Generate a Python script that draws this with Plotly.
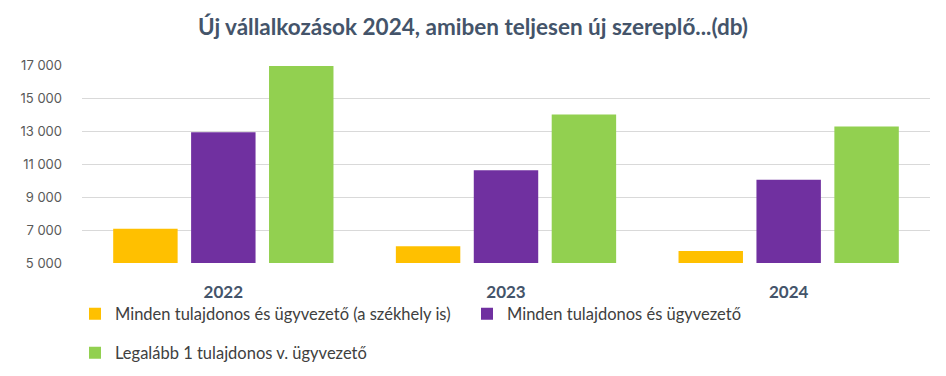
import plotly.graph_objects as go

years = ["2022", "2023", "2024"]
series_names = [
    "Minden tulajdonos és ügyvezető (a székhely is)",
    "Minden tulajdonos és ügyvezető",
    "Legalább 1 tulajdonos v. ügyvezető",
]
vals_all_seat = [7080, 6010, 5730]
vals_all = [12930, 10620, 10040]
vals_one = [16940, 14000, 13270]
colors = ["#FFC000", "#7030A0", "#92D050"]
y_ticks = [5000, 7000, 9000, 11000, 13000, 15000, 17000]

narrow = "Lato, sans-serif"

fig = go.Figure()
for name, vals, col, lg in zip(series_names, [vals_all_seat, vals_all, vals_one], colors,
                               ["legend", "legend", "legend2"]):
    fig.add_trace(go.Bar(x=years, y=vals, name=name, marker=dict(color=col, line=dict(width=0)),
                         legend=lg))

W, H = 946, 376
fig.update_layout(
    width=W, height=H,
    margin=dict(l=82, r=16, t=65, b=113, autoexpand=False),
    paper_bgcolor="white", plot_bgcolor="white",
    separators=", ",
    barmode="group", bargap=0.173, bargroupgap=0.173,
    title=dict(text="<b>Új vállalkozások 2024, amiben teljesen új szereplő...(db)</b>",
               x=0.5, xanchor="center", y=1 - 27/H, yanchor="middle",
               font=dict(family=narrow, size=22.5, color="#44546A")),
    font=dict(family=narrow),
    legend=dict(orientation="h", x=75/W, xanchor="left", y=1 - 314/H, yanchor="middle",
                xref="container", yref="container", entrywidth=347,
                font=dict(size=16.5, color="#404040"),
                itemwidth=30, bgcolor="rgba(0,0,0,0)", traceorder="normal"),
    legend2=dict(orientation="h", x=75/W, xanchor="left", y=1 - 353/H, yanchor="middle",
                 xref="container", yref="container",
                 font=dict(size=16.5, color="#404040"), itemwidth=30, bgcolor="rgba(0,0,0,0)"),
    xaxis=dict(showgrid=False, showline=False, ticks="", ticklabelstandoff=17, automargin=False,
               tickfont=dict(family=narrow, size=17, color="#44546A", weight="bold")),
    yaxis=dict(range=[5000, 17000], tickvals=y_ticks, tickformat=",d", showgrid=True,
               gridcolor="#D9D9D9", gridwidth=1, zeroline=False, showline=False,
               ticklabelstandoff=19, automargin=False,
               tickfont=dict(family="Inter, Lato, sans-serif", size=13, color="#595959")),
)

fig.write_html("out.html", config={"displayModeBar": False},
               post_script="document.body.style.margin='0';")
